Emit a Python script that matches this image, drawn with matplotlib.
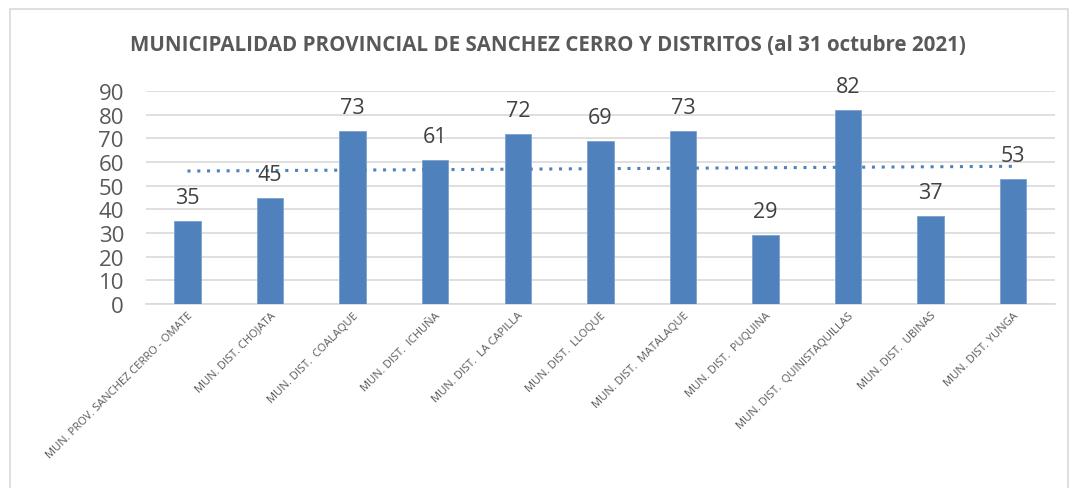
import numpy as np
import matplotlib
matplotlib.use("Agg")
import matplotlib.pyplot as plt
from matplotlib.patches import Rectangle

plt.rcParams['font.family'] = ['Open Sans', 'DejaVu Sans']

categorias = ["MUN. PROV. SANCHEZ CERRO - OMATE", "MUN. DIST. CHOJATA",
              "MUN. DIST.  COALAQUE", "MUN. DIST.  ICHUÑA",
              "MUN. DIST.  LA CAPILLA", "MUN. DIST.  LLOQUE",
              "MUN. DIST.  MATALAQUE", "MUN. DIST.  PUQUINA",
              "MUN. DIST.  QUINISTAQUILLAS", "MUN. DIST.  UBINAS",
              "MUN. DIST. YUNGA"]
valores = [35, 45, 73, 61, 72, 69, 73, 29, 82, 37, 53]
yticks = [0, 10, 20, 30, 40, 50, 60, 70, 80, 90]

azul = "#4F81BD"
gris = "#595959"

fig = plt.figure(figsize=(10.75, 4.89), dpi=100)
ax = fig.add_axes([0.136, 0.376, 0.845, 0.436])

x = np.arange(len(valores))
ax.bar(x, valores, width=0.32, color=azul, edgecolor="#7FA1CF", linewidth=0.6, zorder=3)

# linea de tendencia lineal
coef = np.polyfit(x, valores, 1)
ax.plot(x, np.polyval(coef, x), linestyle=(0, (1, 2.2)), color=azul, linewidth=2.2, zorder=4)

for xi, v in zip(x, valores):
    ax.text(xi, v + 5.5, str(v), ha="center", va="bottom", fontsize=15.5, color="#404040", zorder=5)

ax.set_ylim(0, 90)
ax.set_xlim(-0.5, len(valores) - 0.5)
ax.set_yticks(yticks)
ax.yaxis.grid(True, color="#D9D9D9", linewidth=1.2, zorder=0)
ax.set_axisbelow(True)
for s in ["top", "right", "left"]:
    ax.spines[s].set_visible(False)
ax.spines["bottom"].set_color("#D9D9D9")
ax.spines["bottom"].set_linewidth(1.2)
ax.tick_params(axis="y", length=0, labelsize=16, labelcolor=gris, pad=16)
ax.tick_params(axis="x", length=0, pad=4)
ax.set_xticks(x)
ax.set_xticklabels(categorias, rotation=45, ha="right", rotation_mode="anchor",
                   fontsize=8, color=gris)

fig.text(0.51, 0.907, "MUNICIPALIDAD PROVINCIAL DE SANCHEZ CERRO Y DISTRITOS (al 31 octubre 2021)",
         ha="center", va="center", fontsize=14.8, fontweight="bold", color=gris)

fig.patches.append(Rectangle((0.0093, -0.01), 0.984, 0.99, transform=fig.transFigure,
                             fill=False, edgecolor="#D9D9D9", linewidth=1.2))

fig.savefig("out.png", dpi=100)
